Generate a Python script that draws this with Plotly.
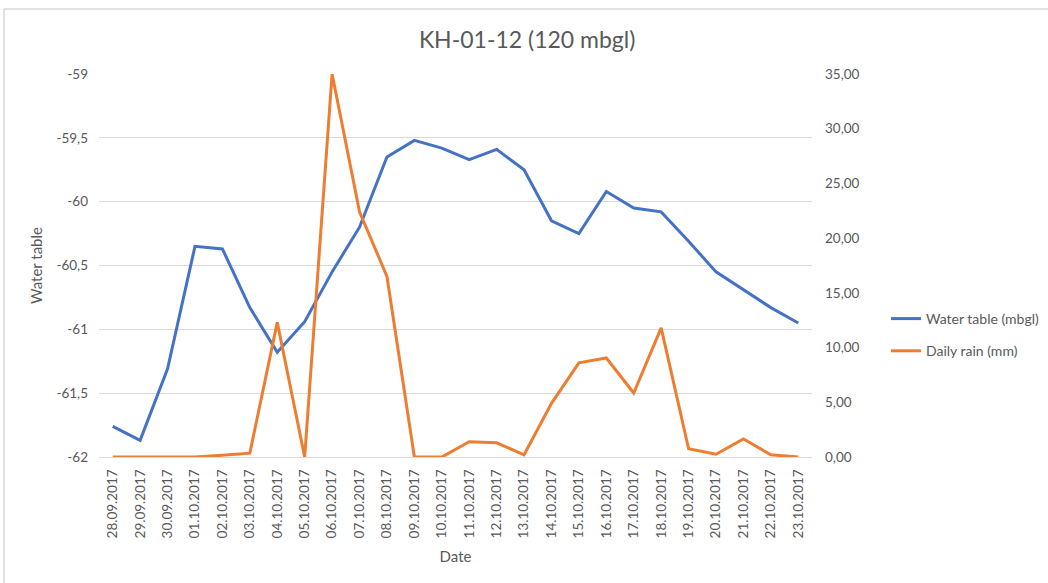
import plotly.graph_objects as go

# Observation dates (category axis)
dates = [
    "28.09.2017", "29.09.2017", "30.09.2017", "01.10.2017", "02.10.2017",
    "03.10.2017", "04.10.2017", "05.10.2017", "06.10.2017", "07.10.2017",
    "08.10.2017", "09.10.2017", "10.10.2017", "11.10.2017", "12.10.2017",
    "13.10.2017", "14.10.2017", "15.10.2017", "16.10.2017", "17.10.2017",
    "18.10.2017", "19.10.2017", "20.10.2017", "21.10.2017", "22.10.2017",
    "23.10.2017",
]

# Groundwater level in well KH-01-12 (mbgl, negative = below ground)
water_table = [
    -61.76, -61.87, -61.31, -60.35, -60.37,
    -60.83, -61.18, -60.94, -60.55, -60.20,
    -59.65, -59.52, -59.58, -59.67, -59.59,
    -59.75, -60.15, -60.25, -59.92, -60.05,
    -60.08, -60.31, -60.55, -60.69, -60.83,
    -60.95,
]

# Daily precipitation (mm)
daily_rain = [
    0.0, 0.0, 0.0, 0.0, 0.15,
    0.35, 12.3, 0.0, 35.0, 22.4,
    16.5, 0.0, 0.0, 1.4, 1.3,
    0.2, 4.9, 8.6, 9.05, 5.85,
    11.8, 0.75, 0.25, 1.65, 0.2,
    0.0,
]

# Axis ticks
left_ticks = [-62, -61.5, -61, -60.5, -60, -59.5, -59]
right_ticks = [0, 5, 10, 15, 20, 25, 30, 35]


def fmt_comma(v, decimals=None):
    s = f"{v:.{decimals}f}" if decimals is not None else f"{v:g}"
    return s.replace(".", ",")


FONT = "Lato, 'Open Sans', sans-serif"
TEXT = "#595959"
GRID = "#D9D9D9"
BLUE = "#4472C4"
ORANGE = "#ED7D31"
FIG_W, FIG_H = 1048, 583

fig = go.Figure()
fig.add_trace(go.Scatter(
    x=dates, y=water_table, mode="lines", name="Water table (mbgl)",
    line=dict(color=BLUE, width=3), yaxis="y", legendgroup="wt",
))
fig.add_trace(go.Scatter(
    x=dates, y=daily_rain, mode="lines", name="Daily rain (mm)",
    line=dict(color=ORANGE, width=3), yaxis="y2", legendgroup="rain",
))

# Plot area: x 99..812 px, y 74..457 px
L, R, T, B = 99, 236, 74, 126
W, H = FIG_W - L - R, FIG_H - T - B


def px_x(px):
    return (px - L) / W


def px_y(py):
    return (FIG_H - B - py) / H


fig.update_layout(
    width=FIG_W, height=FIG_H,
    margin=dict(l=L, r=R, t=T, b=B),
    paper_bgcolor="white", plot_bgcolor="white",
    font=dict(family=FONT, color=TEXT, size=13),
    title=dict(
        text="KH-01-12 (120 mbgl)", x=0.503, xanchor="center",
        y=1 - 40 / FIG_H, yanchor="middle", yref="container",
        font=dict(size=23, color=TEXT, family=FONT),
    ),
    xaxis=dict(
        type="category", range=[-0.5, len(dates) - 0.5],
        tickangle=-90, ticks="", showgrid=False,
        showline=True, linecolor=GRID, linewidth=1,
        tickfont=dict(size=13.5, color=TEXT),
        ticklabelstandoff=6,
        title=dict(text="Date", font=dict(size=15, color=TEXT), standoff=14),
    ),
    yaxis=dict(
        range=[-62, -59], tickvals=left_ticks,
        ticktext=[fmt_comma(v) for v in left_ticks],
        showgrid=True, gridcolor=GRID, gridwidth=1, zeroline=False,
        ticks="", tickfont=dict(size=13.5, color=TEXT), ticklabelstandoff=10,
        title=dict(text="Water table", font=dict(size=15, color=TEXT), standoff=10),
    ),
    yaxis2=dict(
        range=[0, 35], tickvals=right_ticks,
        ticktext=[fmt_comma(v, 2) for v in right_ticks],
        overlaying="y", side="right", showgrid=False, zeroline=False,
        ticks="", tickfont=dict(size=13.5, color=TEXT), ticklabelstandoff=12,
    ),
    # legend placed in container coordinates so it does not widen the margins
    legend=dict(
        xref="container", yref="container",
        x=886 / FIG_W, xanchor="left", y=1 - 303 / FIG_H, yanchor="top",
        font=dict(size=14, color=TEXT), bgcolor="rgba(0,0,0,0)",
        traceorder="grouped", tracegroupgap=11,
    ),
    showlegend=True,
    shapes=[
        dict(type="line", xref="paper", yref="paper",
             x0=px_x(4), x1=px_x(1100), y0=px_y(9), y1=px_y(9),
             line=dict(color=GRID, width=1.5)),
        dict(type="line", xref="paper", yref="paper",
             x0=px_x(4), x1=px_x(4), y0=px_y(9), y1=px_y(640),
             line=dict(color=GRID, width=1.5)),
    ],
)

fig.write_html("out.html")
